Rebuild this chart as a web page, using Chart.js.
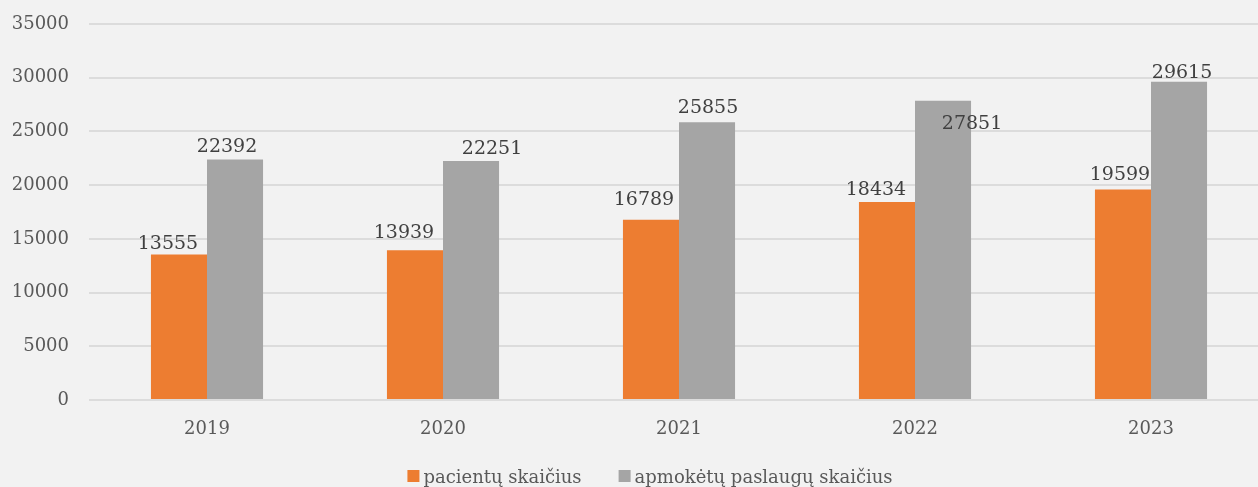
<!DOCTYPE html>
<html>
<head>
<meta charset="utf-8">
<script src="https://cdn.jsdelivr.net/npm/chart.js@4/dist/chart.umd.min.js"></script>
<style>
  html, body { margin: 0; padding: 0; background: #f2f2f2; overflow: hidden; width: 1258px; height: 487px; }
  #wrap { width: 1300px; height: 487px; position: relative; }
  canvas { display: block; }
</style>
</head>
<body>
<div id="wrap"><canvas id="c" width="1300" height="487"></canvas></div>
<script>
// Years on the category axis
const years = ['2019', '2020', '2021', '2022', '2023'];
// Number of patients per year
const patients = [13555, 13939, 16789, 18434, 19599];
// Number of paid services per year
const services = [22392, 22251, 25855, 27851, 29615];
// Value axis range and step
const yMin = 0;
const yMax = 35000;
const yStep = 5000;
// Series names shown in the legend
const seriesNames = ['pacientų skaičius', 'apmokėtų paslaugų skaičius'];
const seriesColors = ['#ed7d31', '#a5a5a5'];

// Value label nudges [dx, dy] from the top centre of each bar
const labelNudge = [
  [[-11, -10], [-11, -17], [-7, -20], [-11, -12], [-3, -14]],
  [[-8, -12], [21, -12], [1, -14], [29, 23], [3, -9]]
];

const FONT = '"DejaVu Serif", "Liberation Serif", serif';

// Numbers above the bars
const valueLabels = {
  id: 'valueLabels',
  afterDatasetsDraw(chart) {
    const ctx = chart.ctx;
    ctx.save();
    ctx.font = '19px ' + FONT;
    ctx.fillStyle = '#404040';
    ctx.textAlign = 'center';
    ctx.textBaseline = 'middle';
    chart.data.datasets.forEach((ds, di) => {
      const meta = chart.getDatasetMeta(di);
      meta.data.forEach((bar, i) => {
        const [dx, dy] = labelNudge[di][i];
        ctx.fillText(String(ds.data[i]), bar.x + dx, bar.y + dy);
      });
    });
    ctx.restore();
  }
};

// Centred legend row under the axis
const bottomLegend = {
  id: 'bottomLegend',
  afterDraw(chart) {
    const ctx = chart.ctx;
    const box = 12, gapText = 4, gapItem = 37;
    ctx.save();
    ctx.font = '18px ' + FONT;
    ctx.textBaseline = 'alphabetic';
    ctx.textAlign = 'left';
    const items = chart.data.datasets.map(ds => ({
      text: ds.label, color: ds.backgroundColor, w: ctx.measureText(ds.label).width
    }));
    let total = 0;
    items.forEach((it, i) => { total += box + gapText + it.w + (i ? gapItem : 0); });
    let x = chart.width / 2 - total / 2;
    const baseline = 483;
    items.forEach((it, i) => {
      if (i) x += gapItem;
      ctx.fillStyle = it.color;
      ctx.fillRect(x, 470, box, box);
      x += box + gapText;
      ctx.fillStyle = '#595959';
      ctx.fillText(it.text, x, baseline);
      x += it.w;
    });
    ctx.restore();
  }
};

new Chart(document.getElementById('c'), {
  type: 'bar',
  data: {
    labels: years,
    datasets: [
      { label: seriesNames[0], data: patients, backgroundColor: seriesColors[0] },
      { label: seriesNames[1], data: services, backgroundColor: seriesColors[1] }
    ]
  },
  options: {
    responsive: false,
    animation: false,
    devicePixelRatio: 1,
    datasets: { bar: { barPercentage: 1, categoryPercentage: 0.475 } },
    layout: { padding: { top: 24, right: 31, left: 0, bottom: 30 } },
    plugins: {
      tooltip: { enabled: false },
      legend: { display: false }
    },
    scales: {
      x: {
        grid: { display: false, drawTicks: false },
        border: { display: false },
        ticks: { color: '#595959', padding: 19, font: { family: FONT, size: 18 } },
        afterFit(s) { s.height = 57; }
      },
      y: {
        min: yMin,
        max: yMax,
        grid: { color: '#dcdcdc', lineWidth: 2, drawTicks: false },
        border: { display: false },
        ticks: {
          stepSize: yStep,
          color: '#595959',
          padding: 20,
          font: { family: FONT, size: 18 },
          callback: v => String(v)
        },
        afterFit(s) {
          s.width = 89;
          // tick gap is horizontal only; keep the plot top set by layout padding
          s.paddingTop = 0;
          s.paddingBottom = 0;
        }
      }
    }
  },
  plugins: [valueLabels, bottomLegend]
});
</script>
</body>
</html>
